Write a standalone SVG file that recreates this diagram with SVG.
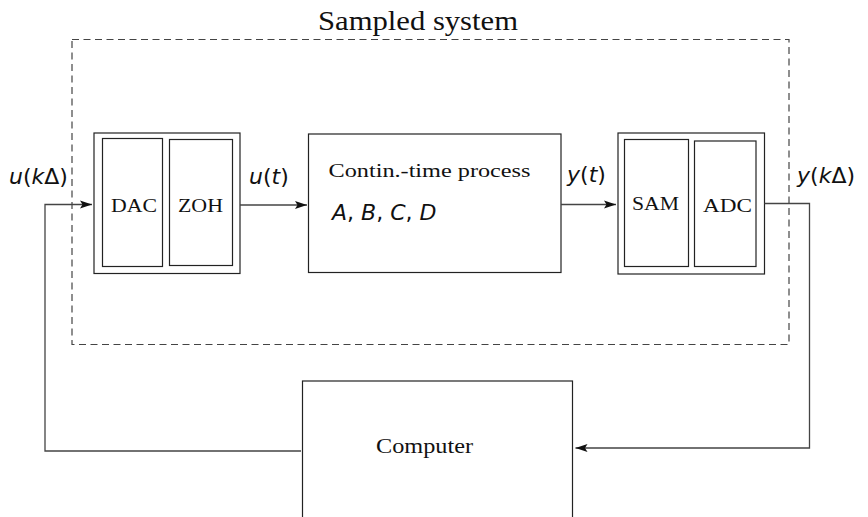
<svg xmlns="http://www.w3.org/2000/svg" width="868" height="517" viewBox="0 0 868 517">
<style>
.box{fill:none;stroke:#222;stroke-width:1.2}
.conn{fill:none;stroke:#444;stroke-width:1.3}
.dash{fill:none;stroke:#444;stroke-width:1.2;stroke-dasharray:7 4.5}
.serif{font-family:"Liberation Serif","Times New Roman",serif;fill:#111}
.math{font-family:"DejaVu Sans","Liberation Sans",sans-serif;fill:#111;font-size:22px}
.it{font-style:italic}
</style>
<defs>
<marker id="arr" markerWidth="14" markerHeight="10" refX="12" refY="5" orient="auto" markerUnits="userSpaceOnUse">
<path d="M0,1 L12,5 L0,9 L2.5,5 Z" fill="#111"/>
</marker>
</defs>
<rect width="868" height="517" fill="#fff"/>

<g id="sampled-system">
<rect class="dash" x="72" y="39.5" width="717" height="305"/>
<text class="serif" x="318" y="30" font-size="27" textLength="200" lengthAdjust="spacingAndGlyphs">Sampled system</text>
</g>

<g id="dac-zoh">
<rect class="box" x="94" y="133" width="146" height="140.5"/>
<rect class="box" x="102.5" y="138.5" width="60" height="128"/>
<rect class="box" x="169.5" y="139.5" width="63" height="126"/>
<text class="serif" x="111" y="212" font-size="19" textLength="46" lengthAdjust="spacingAndGlyphs">DAC</text>
<text class="serif" x="178" y="212" font-size="19" textLength="45" lengthAdjust="spacingAndGlyphs">ZOH</text>
</g>

<g id="process">
<rect class="box" x="308.5" y="134" width="252.5" height="138.5"/>
<text class="serif" x="328.5" y="177" font-size="19.5" textLength="202" lengthAdjust="spacingAndGlyphs">Contin.-time process</text>
<text class="math" x="332" y="220"><tspan class="it">A</tspan>, <tspan class="it">B</tspan>, <tspan class="it">C</tspan>, <tspan class="it">D</tspan></text>
</g>

<g id="sam-adc">
<rect class="box" x="618" y="133" width="146.5" height="141"/>
<rect class="box" x="624.5" y="139.5" width="64" height="127"/>
<rect class="box" x="694.5" y="141" width="61.5" height="125.5"/>
<text class="serif" x="632" y="210" font-size="19" textLength="47" lengthAdjust="spacingAndGlyphs">SAM</text>
<text class="serif" x="703" y="212" font-size="19" textLength="49" lengthAdjust="spacingAndGlyphs">ADC</text>
</g>

<g id="computer">
<rect class="box" x="302.5" y="381" width="270" height="150"/>
<text class="serif" x="376" y="453" font-size="22" textLength="97" lengthAdjust="spacingAndGlyphs">Computer</text>
</g>

<g id="connectors">
<path class="conn" d="M301,451 H45 V204.5 H92" marker-end="url(#arr)"/>
<path class="conn" d="M240,205 H307" marker-end="url(#arr)"/>
<path class="conn" d="M561,204.5 H616" marker-end="url(#arr)"/>
<path class="conn" d="M764.5,203.5 H809.5 V448 H575.5" marker-end="url(#arr)"/>
</g>

<g id="labels">
<text class="math" x="9" y="184"><tspan class="it">u</tspan>(<tspan class="it">k</tspan>Δ)</text>
<text class="math" x="249" y="184"><tspan class="it">u</tspan>(<tspan class="it">t</tspan>)</text>
<text class="math" x="567" y="182"><tspan class="it">y</tspan>(<tspan class="it">t</tspan>)</text>
<text class="math" x="797" y="183"><tspan class="it">y</tspan>(<tspan class="it">k</tspan>Δ)</text>
</g>
</svg>
